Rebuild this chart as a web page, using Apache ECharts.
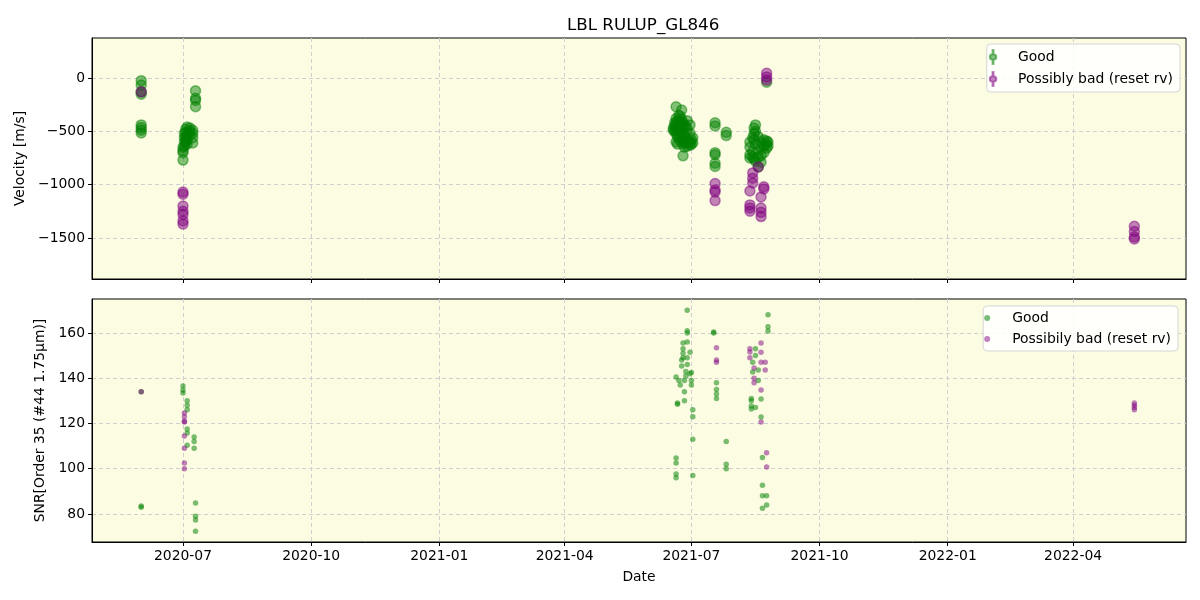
<!DOCTYPE html>
<html>
<head>
<meta charset="utf-8">
<script src="https://cdn.jsdelivr.net/npm/echarts@6/dist/echarts.min.js"></script>
<style>
html,body{margin:0;padding:0;background:#fff;}
#chart{width:1200px;height:600px;}
</style>
</head>
<body>
<div id="chart"></div>
<script>
// ---------------- DATA ----------------
const title = 'LBL RULUP_GL846';
const xTickDates = ['2020-07-01','2020-10-01','2021-01-01','2021-04-01','2021-07-01','2021-10-01','2022-01-01','2022-04-01'];
const velTicks = [-1500, -1000, -500, 0];
const snrTicks = [80, 100, 120, 140, 160];

const velGood = [
 ['2020-06-01',-25],['2020-06-01',-66],['2020-06-01',-130],['2020-06-01',-153],
 ['2020-06-01',-440],['2020-06-01',-465],['2020-06-01',-490],['2020-06-01',-515],
 ['2020-07-01',-650],['2020-07-01',-680],['2020-07-01',-700],['2020-07-01',-770],
 ['2020-07-02',-520],['2020-07-02',-560],['2020-07-02',-600],['2020-07-02',-640],
 ['2020-07-03',-480],['2020-07-03',-510],['2020-07-03',-560],['2020-07-03',-600],
 ['2020-07-04',-460],['2020-07-04',-540],['2020-07-04',-580],['2020-07-04',-620],
 ['2020-07-06',-470],['2020-07-06',-500],['2020-07-06',-530],
 ['2020-07-08',-490],['2020-07-08',-520],['2020-07-08',-560],['2020-07-08',-610],
 ['2020-07-10',-120],['2020-07-10',-190],['2020-07-10',-210],['2020-07-10',-270],
 ['2021-06-18',-470],['2021-06-18',-490],
 ['2021-06-19',-420],['2021-06-19',-450],['2021-06-19',-500],
 ['2021-06-20',-270],['2021-06-20',-380],['2021-06-20',-430],['2021-06-20',-480],['2021-06-20',-520],['2021-06-20',-600],
 ['2021-06-21',-400],['2021-06-21',-460],['2021-06-21',-550],['2021-06-21',-620],
 ['2021-06-22',-350],['2021-06-22',-440],['2021-06-22',-500],['2021-06-22',-560],
 ['2021-06-23',-360],['2021-06-23',-410],['2021-06-23',-480],['2021-06-23',-590],
 ['2021-06-24',-300],['2021-06-24',-390],['2021-06-24',-450],['2021-06-24',-520],
 ['2021-06-25',-420],['2021-06-25',-500],['2021-06-25',-580],['2021-06-25',-620],['2021-06-25',-730],
 ['2021-06-26',-440],['2021-06-26',-540],['2021-06-26',-600],['2021-06-26',-650],
 ['2021-06-27',-460],['2021-06-27',-560],['2021-06-27',-610],
 ['2021-06-28',-400],['2021-06-28',-480],['2021-06-28',-590],['2021-06-28',-640],
 ['2021-06-30',-440],['2021-06-30',-520],['2021-06-30',-600],['2021-06-30',-630],
 ['2021-07-01',-580],['2021-07-01',-620],
 ['2021-07-02',-560],['2021-07-02',-610],
 ['2021-07-18',-420],['2021-07-18',-450],['2021-07-18',-700],['2021-07-18',-720],['2021-07-18',-800],['2021-07-18',-830],
 ['2021-07-26',-510],['2021-07-26',-540],
 ['2021-08-12',-600],['2021-08-12',-650],['2021-08-12',-720],['2021-08-12',-750],
 ['2021-08-14',-560],['2021-08-14',-690],['2021-08-14',-740],
 ['2021-08-15',-470],['2021-08-15',-520],['2021-08-15',-580],['2021-08-15',-760],
 ['2021-08-16',-440],['2021-08-16',-500],['2021-08-16',-620],['2021-08-16',-780],
 ['2021-08-18',-550],['2021-08-18',-680],['2021-08-18',-740],['2021-08-18',-835],
 ['2021-08-20',-600],['2021-08-20',-650],['2021-08-20',-730],['2021-08-20',-790],
 ['2021-08-22',-580],['2021-08-22',-640],['2021-08-22',-700],
 ['2021-08-24',-40],['2021-08-24',-590],['2021-08-24',-620],['2021-08-24',-660],
 ['2021-08-25',-600],['2021-08-25',-640]
];
const velBad = [
 ['2020-06-01',-130],
 ['2020-07-01',-1070],['2020-07-01',-1090],['2020-07-01',-1200],['2020-07-01',-1250],
 ['2020-07-01',-1280],['2020-07-01',-1340],['2020-07-01',-1370],
 ['2021-07-18',-990],['2021-07-18',-1050],['2021-07-18',-1070],['2021-07-18',-1150],
 ['2021-08-12',-1060],['2021-08-12',-1190],['2021-08-12',-1220],['2021-08-12',-1250],
 ['2021-08-14',-890],['2021-08-14',-940],['2021-08-14',-985],
 ['2021-08-18',-835],
 ['2021-08-20',-1115],['2021-08-20',-1220],['2021-08-20',-1260],['2021-08-20',-1300],
 ['2021-08-22',-1020],['2021-08-22',-1040],
 ['2021-08-24',45],['2021-08-24',10],['2021-08-24',-20],
 ['2022-05-15',-1390],['2022-05-15',-1440],['2022-05-15',-1490],['2022-05-15',-1510]
];
const snrGood = [
 ['2020-06-01',134],['2020-06-01',83.5],['2020-06-01',83],
 ['2020-07-01',136.5],['2020-07-01',134.8],['2020-07-01',133.5],
 ['2020-07-04',130],['2020-07-04',128],['2020-07-04',126],['2020-07-04',117.5],['2020-07-04',115.8],['2020-07-04',110.4],
 ['2020-07-09',114],['2020-07-09',112],['2020-07-09',109],
 ['2020-07-10',84.8],['2020-07-10',79],['2020-07-10',77.3],['2020-07-10',72.4],
 ['2021-06-20',140.5],['2021-06-20',104.7],['2021-06-20',102.5],['2021-06-20',97.6],['2021-06-20',96],
 ['2021-06-21',129],['2021-06-21',128.5],['2021-06-22',139],['2021-06-23',137],
 ['2021-06-24',148],['2021-06-24',145.4],
 ['2021-06-25',155.5],['2021-06-25',153],['2021-06-25',151],['2021-06-25',149],
 ['2021-06-26',139],['2021-06-26',134],['2021-06-26',130],
 ['2021-06-27',143],['2021-06-27',141],
 ['2021-06-28',170],['2021-06-28',161],['2021-06-28',160],['2021-06-28',156],['2021-06-28',149],['2021-06-28',146],
 ['2021-06-30',151.5],['2021-06-30',142],
 ['2021-07-01',142.5],['2021-07-01',139],['2021-07-01',137],
 ['2021-07-02',126],['2021-07-02',123],['2021-07-02',113],['2021-07-02',97],
 ['2021-07-17',160.4],['2021-07-17',160],
 ['2021-07-19',138],['2021-07-19',135],['2021-07-19',133],['2021-07-19',131],
 ['2021-07-26',112],['2021-07-26',102],['2021-07-26',100],
 ['2021-08-13',131],['2021-08-13',130],['2021-08-13',127.7],['2021-08-13',126.4],
 ['2021-08-14',147],['2021-08-14',142.7],
 ['2021-08-16',153],['2021-08-16',150],['2021-08-16',127],
 ['2021-08-18',143.6],['2021-08-18',139],
 ['2021-08-20',130.8],['2021-08-20',122.8],
 ['2021-08-21',105],['2021-08-21',92.7],['2021-08-21',88],['2021-08-21',82.5],
 ['2021-08-24',88],['2021-08-24',84],
 ['2021-08-25',168],['2021-08-25',162.7],['2021-08-25',160.9]
];
const snrBad = [
 ['2020-06-01',134],
 ['2020-07-02',124.6],['2020-07-02',123],['2020-07-02',121],['2020-07-02',120.6],
 ['2020-07-02',114.4],['2020-07-02',109],['2020-07-02',102.5],['2020-07-02',100],
 ['2021-07-19',153.4],['2021-07-19',148],['2021-07-19',147],
 ['2021-08-12',153],['2021-08-12',151.6],['2021-08-12',149],
 ['2021-08-15',144.5],['2021-08-15',140],['2021-08-15',138],
 ['2021-08-20',155.5],['2021-08-20',151.5],['2021-08-20',147],['2021-08-20',134.8],['2021-08-20',120.6],
 ['2021-08-23',147],['2021-08-23',143.6],
 ['2021-08-24',107],['2021-08-24',100.7],
 ['2022-05-15',129],['2022-05-15',128],['2022-05-15',127],['2022-05-15',126]
];

// ---------------- BUILD ----------------
const toT = s => new Date(s + 'T00:00:00').getTime();
const conv = arr => arr.map(d => [toT(d[0]), d[1]]);
const xMin = new Date('2020-04-26T16:00:00').getTime();
const xMax = new Date('2022-06-21T02:00:00').getTime();
const xTicks = xTickDates.map(toT);
const fmtDate = v => { const d = new Date(v); return d.getFullYear() + '-' + String(d.getMonth() + 1).padStart(2, '0'); };
const fmtNum = v => String(v).replace('-', '\u2212');

const FONT = 'DejaVu Sans';
const FS = 13.9;
const green = 'rgba(0,128,0,0.6)';
const purple = 'rgba(128,0,128,0.6)';
const greenS = 'rgba(0,128,0,0.65)';
const purpleS = 'rgba(128,0,128,0.62)';
const errIcon = 'path://M9,0 L11,0 L11,9 A6,6 0 0,1 11,21 L11,30 L9,30 L9,21 A6,6 0 0,1 9,9 Z';

const gridBase = { left: 92, right: 14, show: true, backgroundColor: '#fcfce3', borderColor: '#000', borderWidth: 1 };
const splitLine = { show: true, lineStyle: { type: [4, 3], color: '#cfcfcf', width: 1 } };

function xAxis(idx, showLabels) {
  return {
    type: 'value', gridIndex: idx, min: xMin, max: xMax, scale: true,
    axisLine: { show: true, onZero: false, lineStyle: { color: '#000' } },
    axisTick: { show: true, inside: false, length: 4, lineStyle: { color: '#000' }, customValues: xTicks },
    axisLabel: { show: showLabels, customValues: xTicks, formatter: fmtDate, color: '#000', fontSize: FS, fontFamily: FONT, margin: 7, hideOverlap: false },
    splitLine: splitLine,
    name: showLabels ? 'Date' : '', nameLocation: 'middle', nameGap: 28,
    nameTextStyle: { color: '#000', fontSize: FS, fontFamily: FONT }
  };
}
function yAxis(idx, min, max, ticks, name, gap) {
  return {
    type: 'value', gridIndex: idx, min: min, max: max,
    axisLine: { show: true, lineStyle: { color: '#000' } },
    axisTick: { show: true, inside: false, length: 4, lineStyle: { color: '#000' }, customValues: ticks },
    axisLabel: { customValues: ticks, formatter: fmtNum, color: '#000', fontSize: FS, fontFamily: FONT, margin: 7 },
    splitLine: splitLine,
    name: name, nameLocation: 'middle', nameGap: gap, nameRotate: 90,
    nameTextStyle: { color: '#000', fontSize: FS, fontFamily: FONT }
  };
}

const option = {
  animation: false,
  backgroundColor: '#fff',
  title: { text: title, left: 562, top: 12, textStyle: { fontFamily: FONT, fontSize: 16.7, fontWeight: 'normal', color: '#000' } },
  grid: [
    Object.assign({ top: 38, height: 241 }, gridBase),
    Object.assign({ top: 299, height: 243 }, gridBase)
  ],
  xAxis: [xAxis(0, false), xAxis(1, true)],
  yAxis: [
    yAxis(0, -1885, 375, velTicks, 'Velocity [m/s]', 62),
    yAxis(1, 67.6, 175, snrTicks, 'SNR[Order 35 (#44 1.75\u03bcm)]', 44)
  ],
  legend: [
    {
      orient: 'vertical', right: 20, top: 44, padding: [5, 7, 5, 2], itemGap: 6,
      itemWidth: 40, itemHeight: 14,
      backgroundColor: 'rgba(255,255,255,0.85)', borderColor: '#d5d5d5', borderWidth: 1, borderRadius: 4,
      textStyle: { fontFamily: FONT, fontSize: FS, color: '#000' },
      data: [{ name: 'Good', icon: errIcon }, { name: 'Possibly bad (reset rv)', icon: errIcon }]
    },
    {
      orient: 'vertical', right: 22, top: 306, padding: [5, 7, 5, 1], itemGap: 7,
      itemWidth: 40, itemHeight: 6,
      backgroundColor: 'rgba(255,255,255,0.85)', borderColor: '#d5d5d5', borderWidth: 1, borderRadius: 4,
      textStyle: { fontFamily: FONT, fontSize: FS, color: '#000' },
      data: [{ name: 'Good ', icon: 'circle' }, { name: 'Possibily bad (reset rv)', icon: 'circle' }]
    }
  ],
  series: [
    { name: 'Good', type: 'scatter', xAxisIndex: 0, yAxisIndex: 0, data: conv(velGood), symbolSize: 10,
      itemStyle: { color: green, borderColor: green, borderWidth: 1.5 } },
    { name: 'Possibly bad (reset rv)', type: 'scatter', xAxisIndex: 0, yAxisIndex: 0, data: conv(velBad), symbolSize: 10,
      itemStyle: { color: purple, borderColor: purple, borderWidth: 1.5 } },
    { name: 'Good ', type: 'scatter', xAxisIndex: 1, yAxisIndex: 1, data: conv(snrGood), symbolSize: 5.5,
      itemStyle: { color: greenS } },
    { name: 'Possibily bad (reset rv)', type: 'scatter', xAxisIndex: 1, yAxisIndex: 1, data: conv(snrBad), symbolSize: 5.5,
      itemStyle: { color: purpleS } }
  ]
};

const chart = echarts.init(document.getElementById('chart'), null, { renderer: 'canvas' });
chart.setOption(option);
</script>
</body>
</html>
